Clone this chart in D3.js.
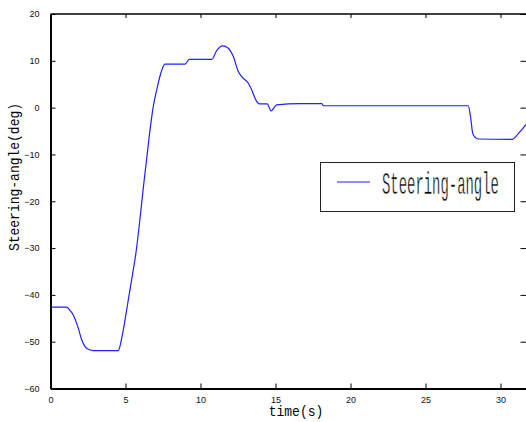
<!DOCTYPE html>
<html>
<head>
<meta charset="utf-8">
<script src="https://cdn.jsdelivr.net/npm/d3@7"></script>
<style>
  body { margin: 0; background: #fff; }
  svg { display: block; }
</style>
</head>
<body>
<svg id="chart" width="526" height="422"></svg>
<script>
// time (s) and steering angle (deg)
let timeVals = [0, 1.08, 1.3, 1.52, 1.85, 2.08, 2.41, 2.86, 4.52, 4.75, 5.19, 5.52, 5.63, 6.3, 6.85,
    7.08, 7.35, 7.63, 8.97, 9.25, 10.75, 11.08, 11.48, 11.85, 12.19, 12.52, 12.75, 13.19, 13.41,
    13.75, 13.92, 14.45, 14.7, 15.08, 16.63, 18.08, 18.2, 27.85, 28.0, 28.15, 28.3, 28.52, 30.75,
    31.2, 31.75];
let angleVals = [-42.6, -42.6, -43.3, -44.3, -47.1, -49.6, -51.4, -51.9, -51.9, -49.2, -41, -34.6, -32.5, -14, 0.2,
    3.8, 7.3, 9.3, 9.3, 10.3, 10.3, 12.2, 13.2, 12.7, 10.9, 7.7, 6.6, 5.2, 3.8,
    1.3, 0.8, 0.8, -0.7, 0.6, 0.85, 0.85, 0.4, 0.4, -1.9, -5.5, -6.3, -6.7, -6.8,
    -5.5, -3.4];
let xTicks = [0, 5, 10, 15, 20, 25, 30];
let yTicks = [20, 10, 0, -10, -20, -30, -40, -50, -60];
let seriesName = "Steering-angle";

let svg = d3.select("#chart");
let mLeft = 50.5, mRight = 527.5, mTop = 14, mBottom = 388.5;

let x = d3.scaleLinear().domain([0, 31.8]).range([mLeft, mRight]);
let y = d3.scaleLinear().domain([-60, 20]).range([mBottom, mTop]);

let minus = s => String(s).replace("-", "\u2212");

// frame (right edge falls just outside the picture)
svg.append("line").attr("x1", mLeft).attr("x2", mRight).attr("y1", mTop).attr("y2", mTop)
    .attr("stroke", "#000").attr("stroke-width", 1.5);
svg.append("line").attr("x1", mRight).attr("x2", mRight).attr("y1", mTop).attr("y2", mBottom)
    .attr("stroke", "#000").attr("stroke-width", 1.5);

// axes with inward ticks
let gx = svg.append("g").attr("transform", `translate(0,${mBottom})`)
    .call(d3.axisBottom(x).tickValues(xTicks).tickSizeInner(-5).tickSizeOuter(0).tickPadding(8).tickFormat(minus));
let gy = svg.append("g").attr("transform", `translate(${mLeft},0)`)
    .call(d3.axisLeft(y).tickValues(yTicks).tickSizeInner(-5).tickSizeOuter(0).tickPadding(11).tickFormat(minus));
let gt = svg.append("g").attr("transform", `translate(0,${mTop})`)
    .call(d3.axisTop(x).tickValues(xTicks).tickSizeInner(-4).tickSizeOuter(0).tickFormat(""));
let gr = svg.append("g").attr("transform", `translate(${mRight},0)`)
    .call(d3.axisRight(y).tickValues(yTicks).tickSizeInner(-7).tickSizeOuter(0).tickFormat(""));

[gx, gy, gt, gr].forEach(g => {
    g.select(".domain").attr("stroke", "#000").attr("stroke-width", 2);
    g.selectAll(".tick line").attr("stroke", "#000").attr("stroke-width", 1);
    g.selectAll(".tick text")
        .attr("fill", "#111")
        .style("font-family", "'Liberation Sans', Arial, sans-serif")
        .style("font-size", "9px");
});
gt.select(".domain").remove();
gr.select(".domain").remove();

// axis titles
svg.append("text")
    .attr("transform", "translate(296,416) scale(1,1.1)")
    .attr("text-anchor", "middle")
    .style("font-family", "'Liberation Mono', monospace")
    .style("font-size", "13px")
    .text("time(s)");

svg.append("text")
    .attr("transform", "translate(19,177) rotate(-90) scale(1,1.1)")
    .attr("text-anchor", "middle")
    .style("font-family", "'Liberation Mono', monospace")
    .style("font-size", "13px")
    .text("Steering-angle(deg)");

// series
let pts = timeVals.map((t, i) => [t, angleVals[i]]);
let line = d3.line()
    .x(d => x(d[0]))
    .y(d => y(d[1]))
    .curve(d3.curveMonotoneX);

svg.append("path")
    .attr("d", line(pts))
    .attr("fill", "none")
    .attr("stroke", "#1f1fff")
    .attr("stroke-width", 1.2);

// legend
let lg = svg.append("g");
lg.append("rect")
    .attr("x", 320.5).attr("y", 162.5).attr("width", 194).attr("height", 49)
    .attr("fill", "#fff").attr("stroke", "#222").attr("stroke-width", 1);
lg.append("line")
    .attr("x1", 337).attr("x2", 370).attr("y1", 182).attr("y2", 182)
    .attr("stroke", "#1f1fff").attr("stroke-width", 1.2);
lg.append("text")
    .attr("transform", "translate(382,193.5) scale(0.7,1.6)")
    .style("font-family", "'Liberation Mono', monospace")
    .style("font-size", "20px")
    .attr("fill", "#000")
    .attr("stroke", "#fff")
    .attr("stroke-width", 0.35)
    .attr("textLength", 167)
    .attr("lengthAdjust", "spacingAndGlyphs")
    .text(seriesName);
</script>
</body>
</html>
